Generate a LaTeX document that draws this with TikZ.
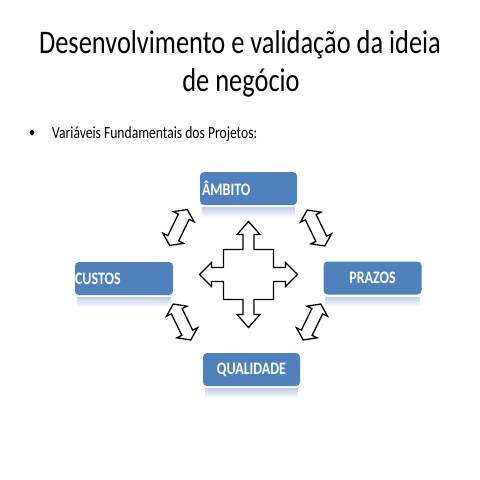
\documentclass[tikz,border=0pt]{standalone}
\usepackage{fontspec}
\setmainfont[FakeStretch=0.8]{Carlito}
\usetikzlibrary{calc,shapes.geometric}
\definecolor{boxblue}{RGB}{79,129,189}
\tikzset{
  boxnode/.style={fill=boxblue, rounded corners=4pt, minimum width=97pt, minimum height=33pt,
    inner xsep=2pt, inner ysep=0pt, text=white, font=\fontsize{17.5}{17.5}\selectfont\bfseries},
  arrowline/.style={draw=black, line width=1.3pt, fill=white, line join=miter},
  reflect/.style={top color=boxblue!35, bottom color=white, draw=none},
}
\newcommand{\dblarrow}[3]{%
  \begin{scope}[shift={(#1,#2)}, rotate=#3]
    \path[arrowline] (-20,0) -- (-12,-11.5) -- (-12,-6) -- (12,-6) -- (12,-11.5) -- (20,0)
      -- (12,11.5) -- (12,6) -- (-12,6) -- (-12,11.5) -- cycle;
  \end{scope}}
\begin{document}
\begin{tikzpicture}[x=1pt,y=-1pt]
\useasboundingbox[fill=white] (0,0) rectangle (480,480);
% title
\node[anchor=base, inner sep=0, font=\fontsize{33}{33}\selectfont] (title1) at (240,53.3) {Desenvolvimento e validação da ideia};
\node[anchor=base, inner sep=0, font=\fontsize{33}{33}\selectfont] (title2) at (241,91.7) {de negócio};
% bullet
\node[ellipse, fill=black, inner sep=0, minimum width=4.5pt, minimum height=5.5pt] (bullet) at (32,132.5) {};
\node[anchor=base west, inner sep=0, font=\fontsize{17}{17}\selectfont] (bullettext) at (52,138.3) {Variáveis Fundamentais dos Projetos:};
% boxes
\node[boxnode, text width=93pt, align=left] (ambito) at (248.5,188.5) {ÂMBITO};
\node[boxnode, inner xsep=0pt, text width=98pt, align=left] (custos) at (124,278.5) {CUSTOS};
\node[boxnode, text width=94pt, align=center] (prazos) at (372.5,278) {PRAZOS};
\node[boxnode, text width=93pt, align=center] (qualidade) at (251.5,369.5) {QUALIDADE};
% reflections
\foreach \b in {ambito,custos,prazos,qualidade}{
  \path[reflect] ($(\b.south west)+(2,2.5)$) rectangle ($(\b.south east)+(-2,12)$);
}
% central four-way arrow
\begin{scope}[shift={(248.5,274.5)}]
\path[arrowline] (0,-53) -- (11.5,-40) -- (5.5,-40) -- (5.5,-25) -- (25,-25) -- (25,-7)
  -- (37,-7) -- (37,-12) -- (49,0) -- (37,12) -- (37,7) -- (25,7) -- (25,25) -- (5.5,25)
  -- (5.5,40) -- (11.5,40) -- (0,53) -- (-11.5,40) -- (-5.5,40) -- (-5.5,25) -- (-25,25)
  -- (-25,7) -- (-37,7) -- (-37,12) -- (-49,0) -- (-37,-12) -- (-37,-7) -- (-25,-7)
  -- (-25,-25) -- (-5.5,-25) -- (-5.5,-40) -- (-11.5,-40) -- cycle;
\end{scope}
% diagonal double arrows
\dblarrow{178.5}{227.5}{64}
\dblarrow{316}{228}{-64}
\dblarrow{182}{322}{-64}
\dblarrow{312}{322}{64}
\end{tikzpicture}
\end{document}
